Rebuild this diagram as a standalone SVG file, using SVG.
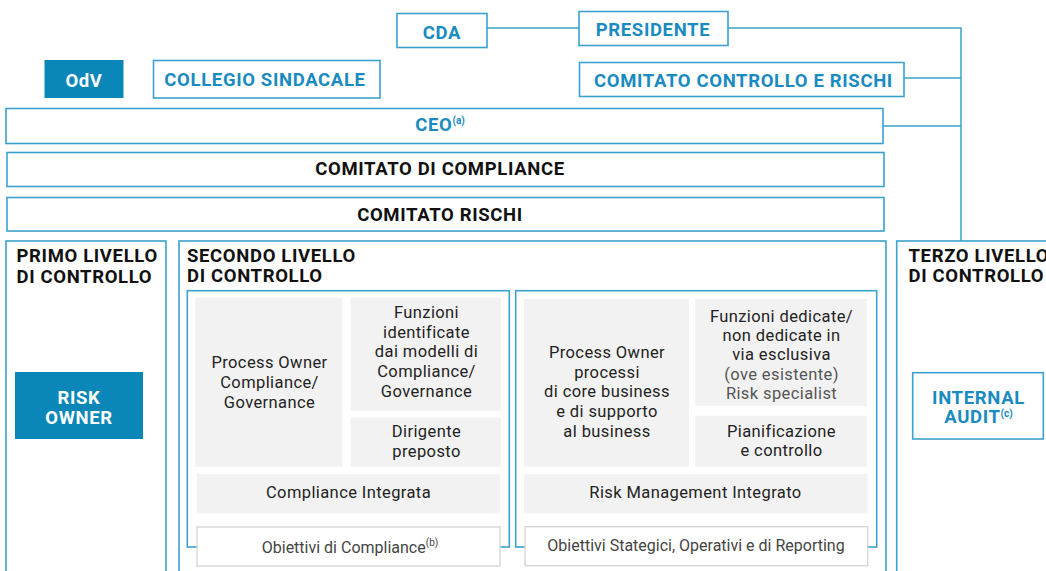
<svg xmlns="http://www.w3.org/2000/svg" width="1046" height="571" viewBox="0 0 1046 571">
<style>
.bx{fill:#fff;stroke:#3aa2cd;stroke-width:1.6}
.fl{fill:#0a87b8}
.cell{fill:#f2f2f2}
.obj{fill:#fff;stroke:#d6d6d6;stroke-width:1.4}
.con{fill:none;stroke:#3aa2cd;stroke-width:1.5}
.b{font-family:Roboto,"Liberation Sans",sans-serif;font-weight:bold;font-size:18.5px;letter-spacing:0.65px}
.tb{fill:#1a8bc0;text-anchor:middle}
.tw{fill:#fff;text-anchor:middle}
.tk{fill:#111;text-anchor:middle}
.hd{fill:#111}
.r{font-family:Roboto,"Liberation Sans",sans-serif;font-size:16.5px;letter-spacing:0.4px;text-anchor:middle}
.tc{fill:#222}
.tl{fill:#555}
.to{font-family:Roboto,"Liberation Sans",sans-serif;font-size:16px;fill:#444;text-anchor:middle}
.sup{font-size:10px;letter-spacing:0}
</style>
<g id="connectors">
<path class="con" d="M487 28H579"/>
<path class="con" d="M728 28H961V241"/>
<path class="con" d="M904 78H961"/>
<path class="con" d="M883 126H961"/>
</g>
<g id="cda"><rect class="bx" x="397" y="13.5" width="90" height="34"/><text class="b tb" x="442" y="39">CDA</text></g>
<g id="presidente"><rect class="bx" x="579" y="11.5" width="149" height="34"/><text class="b tb" x="653" y="35.5">PRESIDENTE</text></g>
<g id="odv"><rect class="fl" x="44.5" y="60" width="79" height="38"/><text class="b tw" x="84" y="87">OdV</text></g>
<g id="collegio"><rect class="bx" x="153.5" y="60.5" width="226.5" height="37.5"/><text class="b tb" x="265" y="86">COLLEGIO SINDACALE</text></g>
<g id="ccr"><rect class="bx" x="579.5" y="62.5" width="324.5" height="34"/><text class="b tb" x="743.5" y="86.5">COMITATO CONTROLLO E RISCHI</text></g>
<g id="ceo"><rect class="bx" x="6" y="108.5" width="877" height="35"/><text class="b tb" x="440" y="130.5">CEO<tspan class="sup" dy="-7">(a)</tspan></text></g>
<g id="comitato-compliance"><rect class="bx" x="7" y="152.5" width="877" height="34"/><text class="b tk" x="440" y="175">COMITATO DI COMPLIANCE</text></g>
<g id="comitato-rischi"><rect class="bx" x="7" y="197.5" width="877" height="33.5"/><text class="b tk" x="440" y="221">COMITATO RISCHI</text></g>
<g id="primo-livello">
<rect class="bx" x="6" y="241" width="160" height="340"/>
<text class="b hd" x="16.5" y="262">PRIMO LIVELLO</text>
<text class="b hd" x="16.5" y="282.5">DI CONTROLLO</text>
</g>
<g id="risk-owner"><rect class="fl" x="15" y="372" width="128" height="67"/><text class="b tw" x="79" y="404">RISK</text><text class="b tw" x="79" y="424">OWNER</text></g>
<g id="secondo-livello">
<rect class="bx" x="179" y="241" width="707" height="340"/>
<text class="b hd" x="187" y="261.7">SECONDO LIVELLO</text>
<text class="b hd" x="187" y="282.3">DI CONTROLLO</text>
</g>
<g id="compliance-group">
<rect class="bx" x="187.3" y="290.7" width="322" height="256.3"/>
<rect class="cell" x="195.3" y="297.7" width="147" height="169"/>
<text class="r tc" x="269.5" y="368.3">Process Owner</text>
<text class="r tc" x="269.5" y="388">Compliance/</text>
<text class="r tc" x="269.5" y="407.5">Governance</text>
<rect class="cell" x="350.7" y="297.7" width="150.3" height="113"/>
<text class="r tc" x="426.5" y="318">Funzioni</text>
<text class="r tc" x="426.5" y="337.7">identificate</text>
<text class="r tc" x="426.5" y="357.2">dai modelli di</text>
<text class="r tc" x="426.5" y="377">Compliance/</text>
<text class="r tc" x="426.5" y="396.7">Governance</text>
<rect class="cell" x="350.7" y="417.7" width="150.3" height="49"/>
<text class="r tc" x="426.5" y="437">Dirigente</text>
<text class="r tc" x="426.5" y="456.5">preposto</text>
<rect class="cell" x="196.7" y="474" width="303.3" height="39.3"/>
<text class="r tc" x="348.5" y="498.3">Compliance Integrata</text>
<rect class="obj" x="197" y="527" width="303" height="39"/>
<text class="to" x="350" y="552.5">Obiettivi di Compliance<tspan class="sup" dy="-7">(b)</tspan></text>
</g>
<g id="risk-group">
<rect class="bx" x="515.7" y="290.7" width="361" height="256.3"/>
<rect class="cell" x="524" y="299" width="165" height="167.7"/>
<text class="r tc" x="607" y="357.7">Process Owner</text>
<text class="r tc" x="607" y="377.5">processi</text>
<text class="r tc" x="607" y="397.2">di core business</text>
<text class="r tc" x="607" y="417">e di supporto</text>
<text class="r tc" x="607" y="436.7">al business</text>
<rect class="cell" x="695.3" y="299" width="171.4" height="107"/>
<text class="r tc" x="781.5" y="321.7">Funzioni dedicate/</text>
<text class="r tc" x="781.5" y="341">non dedicate in</text>
<text class="r tc" x="781.5" y="360.3">via esclusiva</text>
<text class="r tl" x="781.5" y="379.5">(ove esistente)</text>
<text class="r tl" x="781.5" y="399">Risk specialist</text>
<rect class="cell" x="695.3" y="415.7" width="171.4" height="51"/>
<text class="r tc" x="781.5" y="436.7">Pianificazione</text>
<text class="r tc" x="781.5" y="456">e controllo</text>
<rect class="cell" x="524" y="474" width="343.7" height="39.3"/>
<text class="r tc" x="695.5" y="498.3">Risk Management Integrato</text>
<rect class="obj" x="525" y="526.7" width="342.7" height="39"/>
<text class="to" x="696" y="550.7">Obiettivi Stategici, Operativi e di Reporting</text>
</g>
<g id="terzo-livello">
<rect class="bx" x="896.7" y="241" width="200" height="340"/>
<text class="b hd" x="908.5" y="262.3">TERZO LIVELLO</text>
<text class="b hd" x="908.5" y="282.3">DI CONTROLLO</text>
</g>
<g id="internal-audit"><rect class="bx" x="912.7" y="372.7" width="130.6" height="66.3"/><text class="b tb" x="978.5" y="404">INTERNAL</text><text class="b tb" x="978.5" y="423.3">AUDIT<tspan class="sup" dy="-6">(c)</tspan></text></g>
</svg>
